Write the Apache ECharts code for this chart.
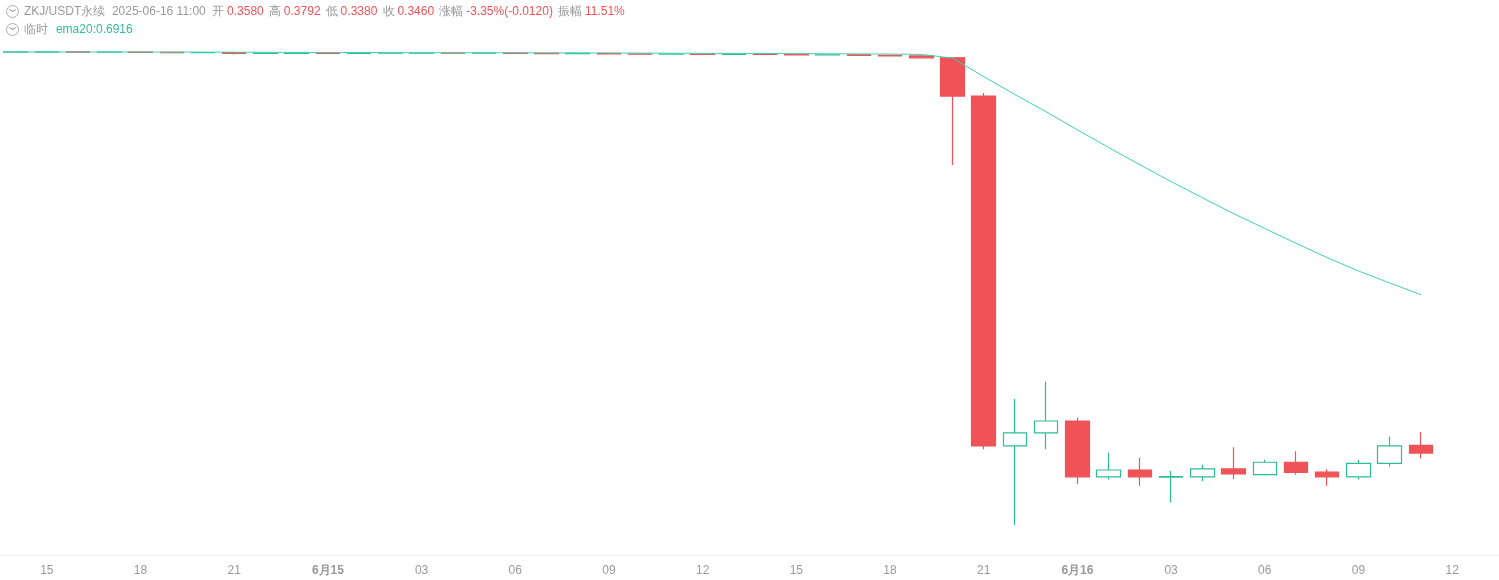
<!DOCTYPE html>
<html>
<head>
<meta charset="utf-8">
<script src="https://cdn.jsdelivr.net/npm/echarts@6/dist/echarts.min.js"></script>
<style>html,body{margin:0;padding:0;background:#fff}#chart{width:1499px;height:580px}</style>
</head>
<body>
<div id="chart"></div>
<script>
// hourly candles, 2025-06-14 14:00 .. 2025-06-16 11:00, [open, close, low, high]
const startDay = 14, startHour = 14, slots = 48;
const candles = [
  [1.985, 1.986, 1.983, 1.988], [1.984, 1.986, 1.982, 1.988], [1.987, 1.984, 1.982, 1.994],
  [1.984, 1.985, 1.981, 1.987], [1.985, 1.982, 1.980, 1.987], [1.982, 1.980, 1.978, 1.984],
  [1.980, 1.981, 1.977, 1.983], [1.981, 1.974, 1.965, 1.982], [1.974, 1.975, 1.971, 1.977],
  [1.974, 1.977, 1.973, 1.978], [1.977, 1.973, 1.971, 1.978], [1.973, 1.976, 1.972, 1.977],
  [1.975, 1.976, 1.973, 1.977], [1.976, 1.977, 1.974, 1.978], [1.977, 1.975, 1.973, 1.978],
  [1.975, 1.976, 1.973, 1.978], [1.976, 1.973, 1.971, 1.977], [1.973, 1.971, 1.969, 1.974],
  [1.971, 1.973, 1.969, 1.974], [1.973, 1.969, 1.967, 1.974], [1.969, 1.967, 1.965, 1.970],
  [1.967, 1.968, 1.965, 1.969], [1.968, 1.965, 1.963, 1.969], [1.965, 1.967, 1.963, 1.968],
  [1.967, 1.964, 1.962, 1.968], [1.964, 1.961, 1.956, 1.965], [1.961, 1.962, 1.958, 1.963],
  [1.962, 1.957, 1.953, 1.963], [1.957, 1.952, 1.950, 1.958], [1.952, 1.936, 1.933, 1.953],
  [1.936, 1.639, 1.214, 1.940], [1.639, 0.357, 0.352, 1.660], [0.357, 0.378, 0.253, 0.438],
  [0.378, 0.398, 0.352, 0.472], [0.398, 0.312, 0.3025, 0.404], [0.312, 0.3215, 0.3085, 0.347],
  [0.3215, 0.312, 0.300, 0.339], [0.3115, 0.3125, 0.279, 0.3205], [0.312, 0.323, 0.306, 0.329],
  [0.323, 0.316, 0.309, 0.355], [0.315, 0.3325, 0.314, 0.336], [0.3325, 0.318, 0.315, 0.349],
  [0.3185, 0.312, 0.300, 0.3225], [0.312, 0.331, 0.3085, 0.336], [0.331, 0.357, 0.326, 0.372],
  [0.358, 0.346, 0.338, 0.3792]
];

const UP = '#2ebd96', DOWN = '#ef5257', GREY = '#999';

const categories = [];
for (let i = 0; i < slots; i++) {
  const h = startHour + i;
  categories.push({ day: startDay + Math.floor(h / 24), hour: h % 24 });
}
const catNames = categories.map(c => '06-' + c.day + ' ' + String(c.hour).padStart(2, '0'));

// ema20 of closes
const ema = [];
const k = 2 / 21;
candles.forEach((c, i) => ema.push(i === 0 ? c[1] : c[1] * k + ema[i - 1] * (1 - k)));

let hiIdx = 0, loIdx = 0;
candles.forEach((c, i) => {
  if (c[3] > candles[hiIdx][3]) hiIdx = i;
  if (c[2] < candles[loIdx][2]) loIdx = i;
});

const chart = echarts.init(document.getElementById('chart'));
const icon = { width: 12, height: 12, borderRadius: 6, borderColor: '#aaa', borderWidth: 1, align: 'center', color: '#aaa', fontSize: 8, lineHeight: 12 };
chart.setOption({
  animation: false,
  graphic: [
    { type: 'text', left: 6, top: 5, style: {
      text: '{i|﹀}  {g|ZKJ/USDT永续  2025-06-16 11:00  开} {r|0.3580}  {g|高} {r|0.3792}  {g|低} {r|0.3380}  {g|收} {r|0.3460}  {g|涨幅} {r|-3.35%(-0.0120)}  {g|振幅} {r|11.51%}',
      font: '12px "Noto Sans CJK SC", Roboto, sans-serif',
      rich: { i: icon, g: { fill: GREY, fontSize: 12 }, r: { fill: DOWN, fontSize: 12 } } } },
    { type: 'text', left: 6, top: 23, style: {
      text: '{i|﹀}  {g|临时}   {t|ema20:0.6916}',
      font: '12px "Noto Sans CJK SC", Roboto, sans-serif',
      rich: { i: icon, g: { fill: GREY, fontSize: 12 }, t: { fill: UP, fontSize: 12 } } } }
  ],
  grid: { left: -18, right: -5, top: 40, bottom: 25 },
  xAxis: {
    type: 'category', data: catNames, boundaryGap: true,
    axisLine: { lineStyle: { color: '#eeeeee' } }, axisTick: { show: false },
    axisLabel: {
      interval: i => categories[i].hour % 3 === 0,
      formatter: (v, i) => {
        const c = categories[i];
        return c.hour === 0 ? '{b|6月' + c.day + '}' : String(c.hour).padStart(2, '0');
      },
      color: GREY, fontSize: 12, margin: 10,
      rich: { b: { fontWeight: 'bold', color: GREY, fontSize: 12 } }
    },
    splitLine: { show: false }
  },
  yAxis: {
    type: 'log', logBase: Math.E, min: 0.222, max: 2.092,
    show: false, splitLine: { show: false }
  },
  series: [
    {
      type: 'candlestick', data: candles, barWidth: 24,
      itemStyle: { color: '#fff', color0: DOWN, borderColor: UP, borderColor0: DOWN, borderWidth: 1.2 },
      markPoint: {
        symbol: 'none',
        data: [
          { coord: [hiIdx, candles[hiIdx][3]], label: { show: true, position: 'right', formatter: '← ' + candles[hiIdx][3].toFixed(4), color: '#222', fontSize: 11, offset: [-6, -3] } },
          { coord: [loIdx, candles[loIdx][2]], label: { show: true, position: 'left', formatter: candles[loIdx][2].toFixed(4) + ' →', color: '#222', fontSize: 11, offset: [4, 0] } }
        ]
      }
    },
    {
      type: 'line', data: ema.map(v => +v.toFixed(4)), showSymbol: false, smooth: false,
      lineStyle: { color: '#3dd1b0', width: 1 }
    }
  ]
});
</script>
</body>
</html>
